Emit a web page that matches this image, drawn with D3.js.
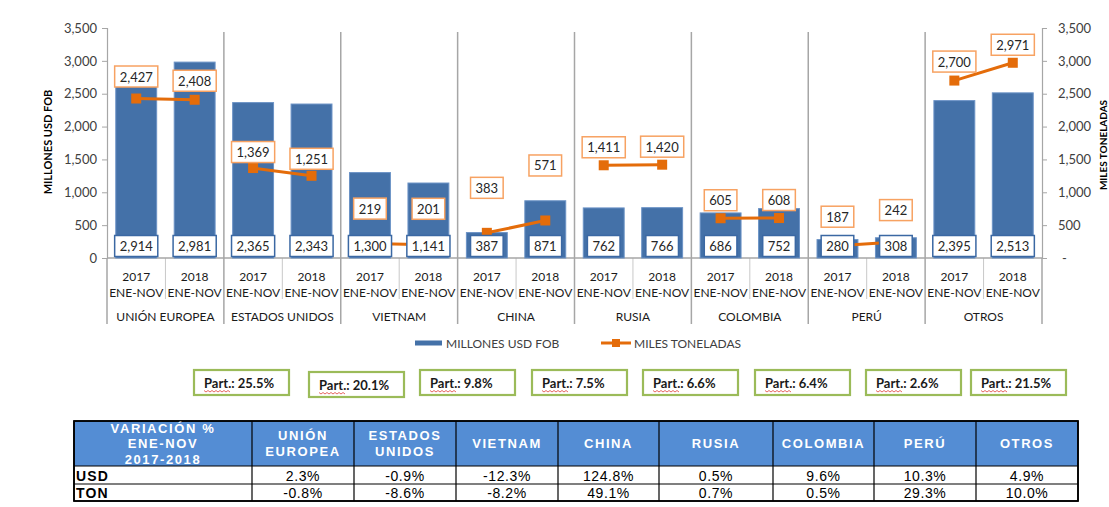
<!DOCTYPE html>
<html>
<head>
<meta charset="utf-8">
<script src="https://cdn.jsdelivr.net/npm/d3@7/dist/d3.min.js"></script>
<style>
  html, body { margin: 0; padding: 0; background: #ffffff; }
  svg { display: block; }
</style>
</head>
<body>
<svg id="chart" width="1109" height="507"></svg>
<script>
// ---------- DATA ----------
const groups = ["UNIÓN EUROPEA", "ESTADOS UNIDOS", "VIETNAM", "CHINA", "RUSIA", "COLOMBIA", "PERÚ", "OTROS"];
const years = ["2017", "2018"];
const periodLabel = "ENE-NOV";
const usd2017 = [2914, 2365, 1300, 387, 762, 686, 280, 2395];
const usd2018 = [2981, 2343, 1141, 871, 766, 752, 308, 2513];
const ton2017 = [2427, 1369, 219, 383, 1411, 605, 187, 2700];
const ton2018 = [2408, 1251, 201, 571, 1420, 608, 242, 2971];
const yTicks = [0, 500, 1000, 1500, 2000, 2500, 3000, 3500];
const shares = ["25.5%", "20.1%", "9.8%", "7.5%", "6.6%", "6.4%", "2.6%", "21.5%"];
const tableHeaders = [["UNIÓN", "EUROPEA"], ["ESTADOS", "UNIDOS"], ["VIETNAM"], ["CHINA"], ["RUSIA"], ["COLOMBIA"], ["PERÚ"], ["OTROS"]];
const tableCorner = ["VARIACIÓN %", "ENE-NOV", "2017-2018"];
const varUsd = ["2.3%", "-0.9%", "-12.3%", "124.8%", "0.5%", "9.6%", "10.3%", "4.9%"];
const varTon = ["-0.8%", "-8.6%", "-8.2%", "49.1%", "0.7%", "0.5%", "29.3%", "10.0%"];
const seriesNames = ["MILLONES USD FOB", "MILES TONELADAS"];

// ---------- LAYOUT (label placement, not data) ----------
const tonLabelLift = [[22, 19], [16, 17], [35, 36], [45, 55], [18, 18], [18, 18], [29, 32], [19, 18]];
const shareBoxX = [194, 309, 420, 532, 643, 755, 866, 971];
const shareBoxY = [370, 372, 370, 370, 370, 370, 370, 370];
const tableColX = [74, 252, 354, 456, 558, 659, 773, 874, 976, 1078];

// ---------- STYLE ----------
const BLUE = "#4471a8", BLUE_EDGE = "#6c93c6", ORANGE = "#e46c0a", ORANGE_LIGHT = "#f7a262";
const GRID = "#a6a6a6", TXT = "#404040";
const FONT = "Lato, 'Open Sans', sans-serif";
const TFONT = "'Liberation Sans', Arial, sans-serif";

const svg = d3.select("#chart");
const plotL = 107, plotR = 1042, plotT = 28, plotB = 258;

// build flat rows
const rows = [];
groups.forEach((g, i) => {
  rows.push({ key: g + "|2017", g, gi: i, year: years[0], usd: usd2017[i], ton: ton2017[i], lift: tonLabelLift[i][0] });
  rows.push({ key: g + "|2018", g, gi: i, year: years[1], usd: usd2018[i], ton: ton2018[i], lift: tonLabelLift[i][1] });
});

const xG = d3.scaleBand().domain(groups).range([plotL, plotR]);
const x = d3.scaleBand().domain(rows.map(r => r.key)).range([plotL, plotR]).paddingInner(0.3).paddingOuter(0.15);
const y = d3.scaleLinear().domain([0, 3500]).range([plotB, plotT]);
const yR = d3.scaleLinear().domain([0, 3500]).range([plotB, plotT]);
const cx = r => x(r.key) + x.bandwidth() / 2;
const fmt = d3.format(",");

// group separators (plot area + below axis)
groups.forEach((g, i) => {
  if (i > 0) {
    svg.append("line").attr("x1", xG(g)).attr("x2", xG(g)).attr("y1", 32).attr("y2", 324)
      .attr("stroke", GRID).attr("stroke-width", 1.5);
  }
  const mid = xG(g) + xG.bandwidth() / 2;
  svg.append("line").attr("x1", mid).attr("x2", mid).attr("y1", plotB).attr("y2", 299)
    .attr("stroke", "#c8c8c8").attr("stroke-width", 1);
});
[plotL, plotR].forEach(xx => {
  svg.append("line").attr("x1", xx).attr("x2", xx).attr("y1", plotB).attr("y2", 324)
    .attr("stroke", GRID).attr("stroke-width", 1.5);
});

// axes
const axL = svg.append("g").attr("transform", `translate(${plotL},0)`)
  .call(d3.axisLeft(y).tickValues(yTicks).tickFormat(fmt).tickSize(5).tickPadding(5));
const axR = svg.append("g").attr("transform", `translate(${plotR},0)`)
  .call(d3.axisRight(yR).tickValues(yTicks).tickFormat(d => d === 0 ? "-" : fmt(d)).tickSize(5).tickPadding(11));
[axL, axR].forEach(a => {
  a.select(".domain").attr("stroke", GRID).attr("stroke-width", 1.2);
  a.selectAll(".tick line").attr("stroke", GRID);
  a.selectAll(".tick text").attr("fill", TXT).style("font-family", FONT).style("font-size", "13px");
});
axR.selectAll(".tick text").filter(d => d === 0).attr("dx", 4);

// x baseline
svg.append("line").attr("x1", plotL).attr("x2", plotR).attr("y1", plotB).attr("y2", plotB)
  .attr("stroke", GRID).attr("stroke-width", 1.5);

// axis titles
svg.append("text").attr("transform", "translate(52,142) rotate(-90)").attr("text-anchor", "middle")
  .style("font-family", FONT).style("font-size", "11px").style("font-weight", "bold").attr("fill", "#000")
  .text(seriesNames[0]);
svg.append("text").attr("transform", "translate(1107,145) rotate(-90)").attr("text-anchor", "middle")
  .style("font-family", FONT).style("font-size", "10px").style("font-weight", "bold").attr("fill", "#000")
  .text(seriesNames[1]);

// bars
svg.append("g").selectAll("rect").data(rows).join("rect")
  .attr("x", r => x(r.key)).attr("width", x.bandwidth())
  .attr("y", r => y(r.usd)).attr("height", r => plotB - y(r.usd))
  .attr("fill", BLUE).attr("stroke", BLUE_EDGE).attr("stroke-width", 1);

// ton lines per group
const line = d3.line().x(r => cx(r)).y(r => yR(r.ton));
groups.forEach((g, i) => {
  const seg = rows.filter(r => r.gi === i);
  svg.append("path").attr("d", line(seg)).attr("fill", "none").attr("stroke", ORANGE).attr("stroke-width", 3);
});
svg.append("g").selectAll("rect").data(rows).join("rect")
  .attr("x", r => cx(r) - 5).attr("y", r => yR(r.ton) - 5).attr("width", 10).attr("height", 10)
  .attr("fill", ORANGE);

// label helper
function boxLabel(parent, cxv, cyv, txt, stroke, sw) {
  const g = parent.append("g");
  const rect = g.append("rect");
  const t = g.append("text").attr("x", cxv).attr("y", cyv).attr("text-anchor", "middle")
    .attr("dominant-baseline", "central").style("font-family", FONT).style("font-size", "13px")
    .attr("fill", "#262626").text(txt);
  const w = t.node().getComputedTextLength() + 10;
  rect.attr("x", cxv - w / 2).attr("y", cyv - 10.5).attr("width", w).attr("height", 21)
    .attr("fill", "#fff").attr("stroke", stroke).attr("stroke-width", sw);
}

// USD labels at bar base
const usdL = svg.append("g");
rows.forEach(r => boxLabel(usdL, cx(r), 246, fmt(r.usd), "#3b68a3", 1.5));
// ton labels
const tonL = svg.append("g");
rows.forEach(r => boxLabel(tonL, cx(r), yR(r.ton) - r.lift, fmt(r.ton), ORANGE_LIGHT, 1.5));

// x labels
rows.forEach(r => {
  svg.append("text").attr("x", cx(r)).attr("y", 276).attr("text-anchor", "middle").attr("dominant-baseline", "central")
    .style("font-family", FONT).style("font-size", "12px").attr("fill", "#1a1a1a").text(r.year);
  svg.append("text").attr("x", cx(r)).attr("y", 292).attr("text-anchor", "middle").attr("dominant-baseline", "central")
    .style("font-family", FONT).style("font-size", "12px").attr("fill", "#1a1a1a").text(periodLabel);
});
groups.forEach(g => {
  svg.append("text").attr("x", xG(g) + xG.bandwidth() / 2).attr("y", 316).attr("text-anchor", "middle")
    .attr("dominant-baseline", "central").style("font-family", FONT).style("font-size", "12px")
    .attr("fill", "#1a1a1a").text(g);
});

// legend
svg.append("rect").attr("x", 415).attr("y", 340.5).attr("width", 27).attr("height", 5).attr("fill", BLUE);
svg.append("text").attr("x", 446).attr("y", 343).attr("dominant-baseline", "central")
  .style("font-family", FONT).style("font-size", "12px").attr("fill", TXT).text(seriesNames[0]);
svg.append("line").attr("x1", 601).attr("x2", 631).attr("y1", 343).attr("y2", 343).attr("stroke", ORANGE).attr("stroke-width", 3);
svg.append("rect").attr("x", 612).attr("y", 339).attr("width", 8).attr("height", 8).attr("fill", ORANGE);
svg.append("text").attr("x", 634).attr("y", 343).attr("dominant-baseline", "central")
  .style("font-family", FONT).style("font-size", "12px").attr("fill", TXT).text(seriesNames[1]);

// share boxes
shares.forEach((s, i) => {
  const bx = shareBoxX[i], by = shareBoxY[i], bw = 95, bh = 25;
  svg.append("rect").attr("x", bx).attr("y", by).attr("width", bw).attr("height", bh)
    .attr("fill", "#fff").attr("stroke", "#9bbb59").attr("stroke-width", 2.2);
  const t = svg.append("text").attr("x", bx + 10).attr("y", by + bh / 2).attr("dominant-baseline", "central")
    .style("font-family", FONT).style("font-size", "13px").style("font-weight", "bold").attr("fill", "#1a1a1a");
  const p1 = t.append("tspan").text("Part.");
  t.append("tspan").text(": " + s);
  const w = p1.node().getComputedTextLength();
  // spell-check squiggle
  let d = "";
  const yy = by + bh / 2 + 8.5;
  for (let k = 0; k <= w; k += 2) d += (k === 0 ? "M" : "L") + (bx + 10 + k) + "," + (yy + (k / 2 % 2 ? 1 : -0.5));
  svg.append("path").attr("d", d).attr("fill", "none").attr("stroke", "#e0403a").attr("stroke-width", 0.8);
});

// table
const tT = 421, tH = 466, tU = 484, tB = 501;
const tg = svg.append("g");
tg.append("rect").attr("x", tableColX[0]).attr("y", tT).attr("width", tableColX[9] - tableColX[0]).attr("height", tH - tT)
  .attr("fill", "#548dd4");
tg.append("rect").attr("x", tableColX[0]).attr("y", tH).attr("width", tableColX[9] - tableColX[0]).attr("height", tB - tH)
  .attr("fill", "#fff");
tableColX.forEach(cxv => tg.append("line").attr("x1", cxv).attr("x2", cxv).attr("y1", tT).attr("y2", tB)
  .attr("stroke", "#000").attr("stroke-width", 1.2));
[tT, tH, tU, tB].forEach(yy => tg.append("line").attr("x1", tableColX[0]).attr("x2", tableColX[9]).attr("y1", yy).attr("y2", yy)
  .attr("stroke", "#000").attr("stroke-width", 1.2));
tg.append("rect").attr("x", tableColX[0]).attr("y", tT).attr("width", tableColX[9] - tableColX[0]).attr("height", tB - tT)
  .attr("fill", "none").attr("stroke", "#000").attr("stroke-width", 1.8);

function headText(xc, lines) {
  const n = lines.length;
  const lh = 15.5;
  const y0 = (tT + tH) / 2 - (n - 1) * lh / 2;
  lines.forEach((l, k) => {
    tg.append("text").attr("x", xc).attr("y", y0 + k * lh).attr("text-anchor", "middle").attr("dominant-baseline", "central")
      .style("font-family", TFONT).style("font-size", "13px").style("font-weight", "bold").style("letter-spacing", "1.6px")
      .attr("fill", "#fff").text(l);
  });
}
headText((tableColX[0] + tableColX[1]) / 2, tableCorner);
tableHeaders.forEach((h, i) => headText((tableColX[i + 1] + tableColX[i + 2]) / 2, h));

[["USD", varUsd, (tH + tU) / 2], ["TON", varTon, (tU + tB) / 2]].forEach(([lab, vals, yy]) => {
  tg.append("text").attr("x", tableColX[0] + 2).attr("y", yy + 0.5).attr("dominant-baseline", "central")
    .style("font-family", TFONT).style("font-size", "14px").style("font-weight", "bold").style("letter-spacing", "1.2px")
    .attr("fill", "#000").text(lab);
  vals.forEach((v, i) => {
    tg.append("text").attr("x", (tableColX[i + 1] + tableColX[i + 2]) / 2).attr("y", yy + 0.5).attr("text-anchor", "middle")
      .attr("dominant-baseline", "central").style("font-family", TFONT).style("font-size", "14px")
      .style("letter-spacing", "0.6px").attr("fill", "#000").text(v);
  });
});
</script>
</body>
</html>
